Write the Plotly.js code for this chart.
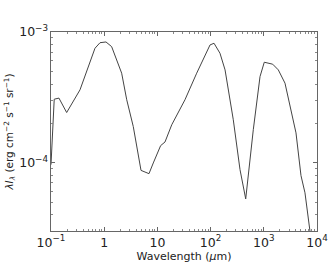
<!DOCTYPE html>
<html>
<head>
<meta charset="utf-8">
<script src="https://cdn.plot.ly/plotly-3.0.1.min.js"></script>
<style>html,body{margin:0;padding:0;background:#fff;}#chart{width:334px;height:279px;}</style>
</head>
<body>
<div id="chart"></div>
<script>
const wavelength = [0.1, 0.115, 0.141, 0.197, 0.351, 0.671, 0.834, 1.08, 1.38, 2.13, 2.65, 3.52, 4.92, 6.95, 8.37, 11.5, 13.9, 18.6, 33.0, 41.0, 54.8, 97.5, 116, 150, 187, 267, 357, 457, 635, 849, 1021, 1469, 1874, 2502, 3343, 4027, 5000, 5943, 7380];
const intensity = [9.66e-5, 3.06e-4, 3.12e-4, 2.42e-4, 3.61e-4, 7.51e-4, 8.28e-4, 8.39e-4, 7.73e-4, 4.84e-4, 3.03e-4, 1.89e-4, 8.73e-5, 8.24e-5, 9.95e-5, 1.35e-4, 1.44e-4, 1.95e-4, 3.03e-4, 3.72e-4, 4.84e-4, 7.96e-4, 8.20e-4, 6.88e-4, 5.13e-4, 2.13e-4, 8.85e-5, 5.28e-5, 1.79e-4, 4.56e-4, 5.87e-4, 5.67e-4, 5.13e-4, 4.06e-4, 2.39e-4, 1.69e-4, 7.96e-5, 5.88e-5, 2.99e-5];
const xTitle = 'Wavelength (<i>μ</i>m)';
const yTitle = '<i>λI</i><sub><i>λ</i></sub> (erg cm<sup>−2</sup> s<sup>−1</sup> sr<sup>−1</sup>)';

const font = {family: 'DejaVu Sans, sans-serif', size: 11, color: '#222'};
const axisCommon = {
  type: 'log', showgrid: false, zeroline: false,
  showline: true, linecolor: '#666', linewidth: 1, mirror: 'ticks',
  ticks: 'inside', ticklen: 4, tickcolor: '#666', tickwidth: 1,
  exponentformat: 'power', dtick: 1,
  minor: {ticks: 'inside', ticklen: 2, tickcolor: '#888', dtick: 'D1', showgrid: false},
  tickfont: {family: 'DejaVu Sans, sans-serif', size: 10, color: '#222'}
};
Plotly.newPlot('chart', [{
  x: wavelength, y: intensity, type: 'scatter', mode: 'lines',
  line: {color: '#444', width: 1}, hoverinfo: 'skip'
}], {
  width: 334, height: 279,
  margin: {l: 51, r: 17, t: 32, b: 48},
  paper_bgcolor: '#fff', plot_bgcolor: '#fff',
  showlegend: false, font: font,
  xaxis: Object.assign({}, axisCommon, {range: [-1, 4], title: {text: xTitle, standoff: 3, font: {size: 11}}}),
  yaxis: Object.assign({}, axisCommon, {range: [Math.log10(3.0e-5), -3], title: {text: yTitle, standoff: 3, font: {size: 10.5}}})
}, {staticPlot: true});
</script>
</body>
</html>
